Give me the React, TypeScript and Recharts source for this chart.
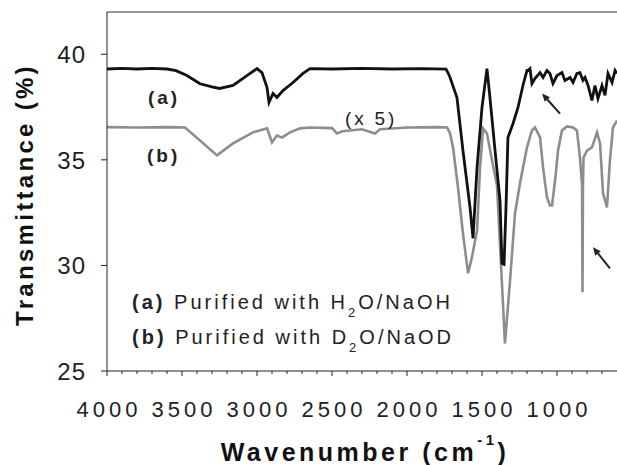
import React from 'react';
import { LineChart, Line, XAxis, YAxis, ReferenceLine, ReferenceDot } from 'recharts';

const FONT = '"Liberation Sans", Arial, sans-serif';

// (a) purified with H2O/NaOH
const wavenumbersA = [
  4000, 3900, 3800, 3700, 3600, 3540, 3467, 3380, 3300, 3250, 3160, 3067, 3000, 2967, 2933,
  2920, 2893, 2867, 2827, 2760, 2693, 2647, 2500, 2300, 2100, 1900, 1740, 1725, 1713, 1667,
  1627, 1580, 1560, 1533, 1500, 1467, 1447, 1413, 1380, 1367, 1353, 1340, 1327, 1293, 1260,
  1227, 1200, 1193, 1180, 1167, 1147, 1113, 1093, 1067, 1047, 1027, 1000, 967, 947, 913,
  893, 867, 847, 827, 813, 793, 767, 747, 727, 700, 680, 660, 633, 613, 600,
];
const transmittanceA = [
  39.3, 39.33, 39.3, 39.33, 39.3, 39.22, 38.99, 38.6, 38.45, 38.38, 38.52, 38.99, 39.32, 39.13, 38.42,
  37.72, 38.14, 37.95, 38.28, 38.66, 39.09, 39.32, 39.3, 39.33, 39.3, 39.32, 39.3, 39.1, 38.9, 37.95,
  35.44, 32.75, 31.28, 34.64, 37.48, 39.32, 37.95, 35.44, 33.07, 30.1, 30.05, 32.75, 36.06, 36.72, 37.48,
  38.52, 39.23, 39.23, 39.32, 38.61, 38.85, 39.13, 38.9, 39.23, 39.09, 38.61, 38.99, 39.13, 38.76, 38.9,
  38.66, 39.09, 39.13, 38.76, 38.9, 38.52, 37.81, 38.52, 37.9, 38.52, 38.05, 39.09, 38.66, 39.23, 39.09,
];

// (b) purified with D2O/NaOD (x 5)
const wavenumbersB = [
  4000, 3800, 3600, 3480, 3380, 3267, 3160, 3027, 2933, 2900, 2867, 2833, 2780, 2713, 2647,
  2500, 2467, 2430, 2300, 2213, 2180, 2000, 1800, 1733, 1713, 1693, 1660, 1627, 1593, 1567,
  1533, 1513, 1493, 1467, 1433, 1400, 1373, 1347, 1313, 1280, 1247, 1200, 1167, 1147, 1113,
  1093, 1067, 1047, 1033, 1013, 993, 967, 933, 893, 867, 847, 833, 830, 827, 823,
  800, 767, 733, 713, 693, 667, 647, 627, 600,
];
const transmittanceB = [
  36.55, 36.53, 36.55, 36.53, 35.92, 35.21, 35.78, 36.3, 36.49, 35.82, 36.15, 36.06, 36.3, 36.49, 36.53,
  36.5, 36.25, 36.35, 36.45, 36.25, 36.45, 36.53, 36.55, 36.53, 36.25, 35.59, 33.69, 31.52, 29.63, 30.39,
  31.66, 34.64, 36.49, 36.25, 34.97, 33.79, 30.0, 26.3, 29.29, 32.46, 33.88, 35.59, 36.39, 36.53, 36.06,
  34.64, 33.22, 32.84, 32.84, 34.02, 35.44, 36.39, 36.58, 36.53, 36.39, 35.11, 33.79, 28.73, 33.79, 35.11,
  35.44, 35.59, 36.3, 35.78, 33.41, 32.75, 34.97, 36.53, 36.86,
];

const xTicks = [
  4000, 3900, 3800, 3700, 3600, 3500, 3400, 3300, 3200, 3100, 3000, 2900, 2800, 2700, 2600, 2500, 2400,
  2300, 2200, 2100, 2000, 1900, 1800, 1700, 1600, 1500, 1400, 1300, 1200, 1100, 1000, 900, 800, 700,
];
const yTicks = [25, 30, 35, 40];

const dataA = wavenumbersA.map((wn, i) => ({ wn, t: transmittanceA[i] }));
const dataB = wavenumbersB.map((wn, i) => ({ wn, t: transmittanceB[i] }));

const renderXTick = (props: any) => {
  const { x, y, payload } = props;
  const major = payload.value % 500 === 0;
  return (
    <g>
      <line x1={x} x2={x} y1={y} y2={y + (major ? 5 : 3)} stroke="#222" />
      {major && (
        <text x={x + 2} y={y + 46} textAnchor="middle" fontFamily={FONT} fontSize={22} letterSpacing={4} fill="#222">
          {payload.value}
        </text>
      )}
    </g>
  );
};

const renderYTick = (props: any) => {
  const { x, y, payload } = props;
  return (
    <g>
      <line x1={x - 6} x2={x} y1={y} y2={y} stroke="#222" />
      <text x={x - 21} y={y + 9} textAnchor="end" fontFamily={FONT} fontSize={24} letterSpacing={1} fill="#222">
        {payload.value}
      </text>
    </g>
  );
};

const renderXTitle = (props: any) => {
  const { x, y, width } = props.viewBox;
  return (
    <text x={x + width / 2 + 3} y={y + 90} textAnchor="middle" fontFamily={FONT} fontWeight="bold" fontSize={25} letterSpacing={3.5} fill="#111">
      Wavenumber (cm<tspan dy={-16} fontSize={15}>-1</tspan><tspan dy={16} fontSize={25}>)</tspan>
    </text>
  );
};

const renderYTitle = (props: any) => {
  const { x, y, height } = props.viewBox;
  const cx = x + 33;
  const cy = y + height / 2 + 3;
  return (
    <text transform={`rotate(-90 ${cx} ${cy})`} x={cx} y={cy} textAnchor="middle" fontFamily={FONT} fontWeight="bold" fontSize={24} letterSpacing={3.3} fill="#111">
      Transmittance (%)
    </text>
  );
};

const textAt = (content: React.ReactNode, size: number, bold = false, spacing = 2.8) => (props: any) => (
  <text x={props.cx} y={props.cy} fontFamily={FONT} fontSize={size} fontWeight={bold ? 'bold' : 'normal'} letterSpacing={spacing} fill="#222">
    {content}
  </text>
);

const arrowShape = (props: any) => {
  const { x1, y1, x2, y2 } = props;
  const a = Math.atan2(y2 - y1, x2 - x1);
  const len = 8;
  const w = 3.5;
  const bx = x2 - len * Math.cos(a);
  const by = y2 - len * Math.sin(a);
  const px = -Math.sin(a) * w;
  const py = Math.cos(a) * w;
  return (
    <g>
      <line x1={x1} y1={y1} x2={bx} y2={by} stroke="#222" strokeWidth={2} />
      <polygon points={`${x2},${y2} ${bx + px},${by + py} ${bx - px},${by - py}`} fill="#222" />
    </g>
  );
};

export default function App() {
  return (
    <div style={{ position: 'absolute', left: 0, top: 0, width: 617, height: 465, background: '#fff' }}>
      <LineChart width={617} height={465} margin={{ top: 12, right: 0, bottom: 0, left: 0 }}>
        <XAxis
          dataKey="wn"
          type="number"
          domain={[600, 4000]}
          reversed
          allowDataOverflow
          ticks={xTicks}
          interval={0}
          tick={renderXTick}
          tickLine={false}
          tickSize={0}
          tickMargin={0}
          axisLine={{ stroke: '#222' }}
          height={94}
          label={{ content: renderXTitle }}
        />
        <YAxis
          type="number"
          domain={[25, 42]}
          allowDataOverflow
          ticks={yTicks}
          interval={0}
          tick={renderYTick}
          tickLine={false}
          tickSize={0}
          tickMargin={0}
          axisLine={{ stroke: '#222' }}
          width={107}
          label={{ content: renderYTitle }}
        />
        <ReferenceLine y={42} stroke="#333" />
        <Line data={dataB} dataKey="t" type="linear" stroke="#8d8d8d" strokeWidth={2.6} dot={false} isAnimationActive={false} />
        <Line data={dataA} dataKey="t" type="linear" stroke="#111" strokeWidth={2.8} dot={false} isAnimationActive={false} />
        <ReferenceDot x={3727} y={37.62} shape={textAt('(a)', 19, true, 3)} />
        <ReferenceDot x={3733} y={34.88} shape={textAt('(b)', 19, true, 3)} />
        <ReferenceDot x={2413} y={36.67} shape={textAt('(x 5)', 19)} />
        <ReferenceDot
          x={3833}
          y={27.92}
          shape={textAt(
            <>
              <tspan fontWeight="bold">(a)</tspan>{' '}Purified with H<tspan fontSize={13} dy={8}>2</tspan>
              <tspan dy={-8}>O/NaOH</tspan>
            </>,
            20,
            false,
            3,
          )}
        />
        <ReferenceDot
          x={3833}
          y={26.27}
          shape={textAt(
            <>
              <tspan fontWeight="bold">(b)</tspan>{' '}Purified with D<tspan fontSize={13} dy={8}>2</tspan>
              <tspan dy={-8}>O/NaOD</tspan>
            </>,
            20,
            false,
            3,
          )}
        />
        <ReferenceLine segment={[{ x: 980, y: 37.19 }, { x: 1100, y: 38.14 }]} shape={arrowShape} />
        <ReferenceLine segment={[{ x: 647, y: 29.86 }, { x: 760, y: 30.86 }]} shape={arrowShape} />
      </LineChart>
    </div>
  );
}
